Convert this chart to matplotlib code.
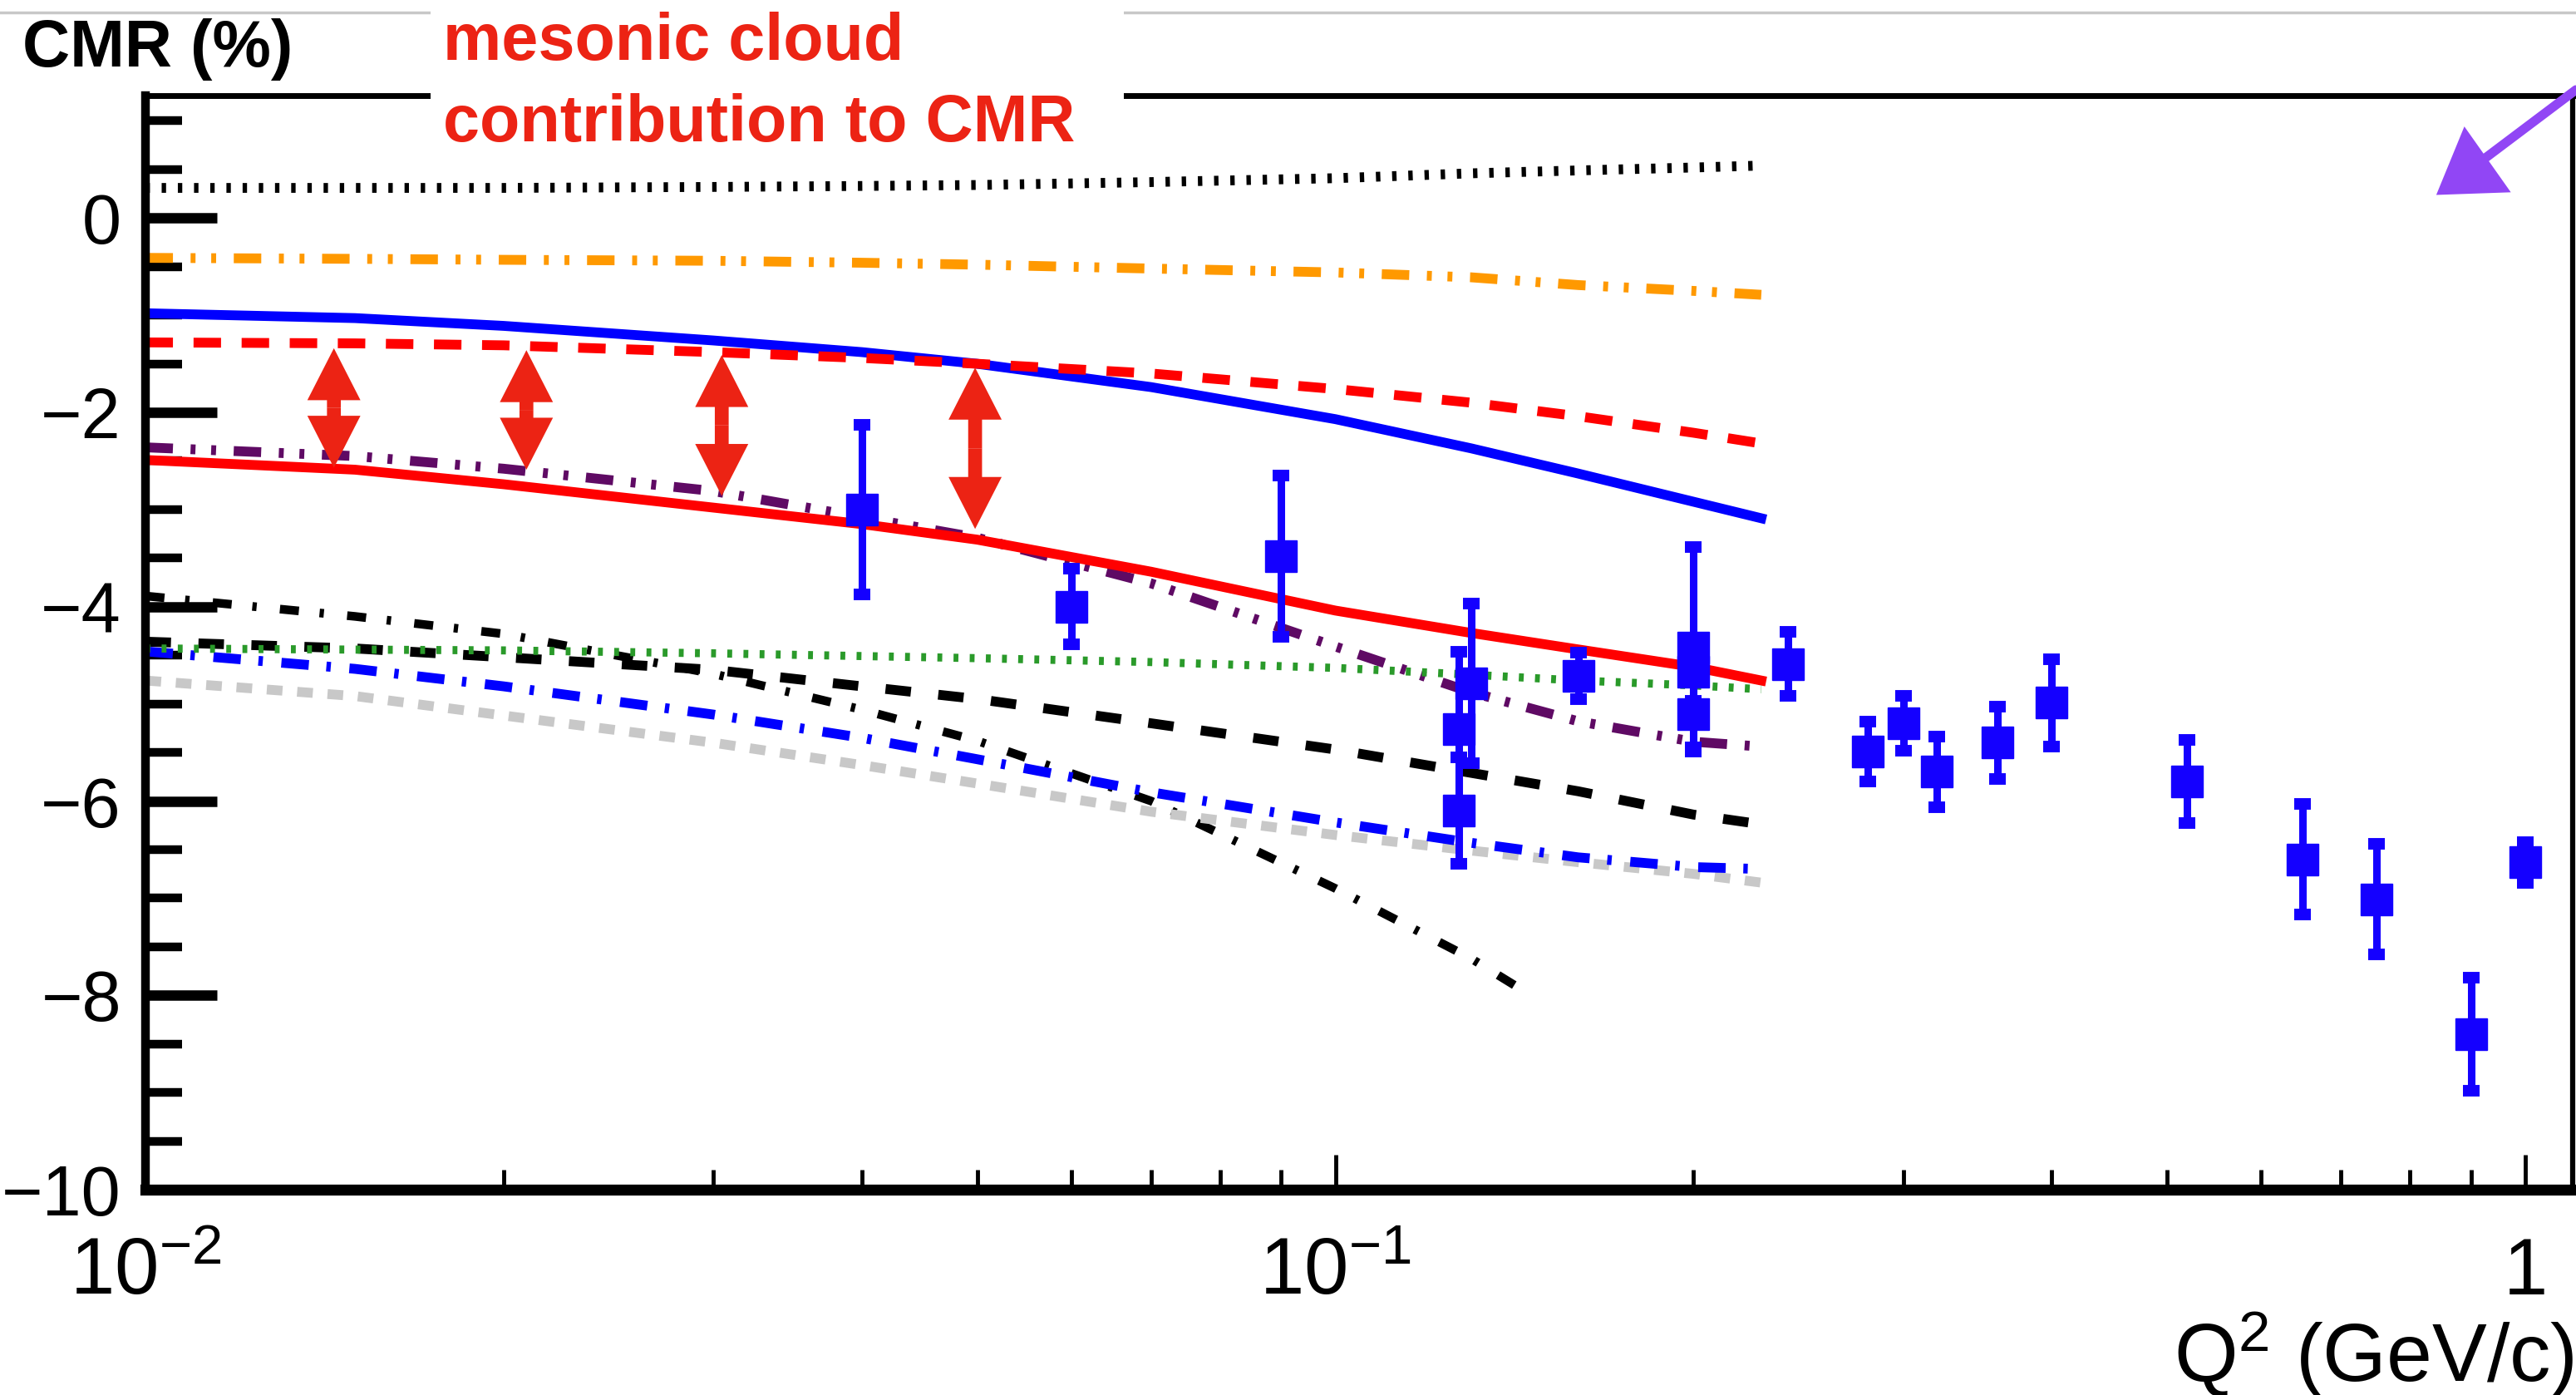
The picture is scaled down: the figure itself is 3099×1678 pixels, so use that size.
import matplotlib
matplotlib.use('Agg')
import matplotlib.pyplot as plt
from matplotlib.ticker import FixedLocator, FixedFormatter, LogLocator, MultipleLocator, NullFormatter
from matplotlib.patches import Rectangle, Polygon
from matplotlib.lines import Line2D

plt.rcParams['font.family'] = ['Liberation Sans', 'DejaVu Sans']
plt.rcParams['mathtext.fontset'] = 'custom'
plt.rcParams['mathtext.rm'] = 'Liberation Sans'
plt.rcParams['mathtext.it'] = 'Liberation Sans:italic'
plt.rcParams['mathtext.bf'] = 'Liberation Sans:bold'

# model curves: Q^2 (GeV/c)^2 vs CMR (%)
q2_curve = [0.01, 0.015, 0.02, 0.03, 0.04, 0.05, 0.07, 0.1, 0.13, 0.16, 0.2, 0.228]
cmr_black_dot = [0.31, 0.31, 0.31, 0.32, 0.33, 0.34, 0.37, 0.41, 0.46, 0.49, 0.52, 0.54]
cmr_orange = [-0.41, -0.42, -0.43, -0.44, -0.46, -0.48, -0.52, -0.56, -0.61, -0.69, -0.75, -0.79]
cmr_blue = [-0.98, -1.03, -1.11, -1.26, -1.38, -1.50, -1.74, -2.07, -2.37, -2.63, -2.92, -3.09]
cmr_red_dash = [-1.28, -1.29, -1.31, -1.38, -1.44, -1.50, -1.60, -1.76, -1.90, -2.04, -2.21, -2.32]
cmr_red = [-2.49, -2.59, -2.74, -2.98, -3.15, -3.31, -3.64, -4.04, -4.27, -4.44, -4.62, -4.76]
cmr_purple = [-2.36, -2.45, -2.58, -2.81, -3.08, -3.29, -3.76, -4.41, -4.88, -5.18, -5.39, -5.44]
cmr_black_dash = [-4.36, -4.43, -4.52, -4.65, -4.82, -4.95, -5.20, -5.47, -5.71, -5.90, -6.14, -6.24]
cmr_blue_dashdot = [-4.46, -4.64, -4.82, -5.11, -5.35, -5.57, -5.91, -6.22, -6.43, -6.58, -6.68, -6.70]
cmr_gray = [-4.76, -4.92, -5.12, -5.40, -5.63, -5.82, -6.11, -6.35, -6.51, -6.63, -6.75, -6.84]

q2_dashdot = [0.01, 0.015, 0.02, 0.03, 0.04, 0.05, 0.07, 0.1, 0.13, 0.146]
cmr_black_dashdot = [-3.89, -4.10, -4.28, -4.69, -5.06, -5.38, -6.00, -6.90, -7.62, -8.00]

q2_green = [0.01, 0.02, 0.03, 0.05, 0.07, 0.1, 0.13, 0.16, 0.2, 0.228]
cmr_green = [-4.43, -4.45, -4.48, -4.53, -4.57, -4.63, -4.70, -4.76, -4.81, -4.85]

# measurements
q2_data = [0.04, 0.06, 0.09, 0.127, 0.127, 0.13, 0.16, 0.2, 0.2, 0.2, 0.24,
           0.28, 0.30, 0.32, 0.36, 0.40, 0.52, 0.65, 0.75, 0.90, 1.0]
cmr_data = [-3.00, -4.00, -3.48, -5.26, -6.10, -4.79, -4.71, -4.42, -4.67, -5.11, -4.59,
            -5.49, -5.20, -5.70, -5.40, -4.99, -5.80, -6.60, -7.01, -8.40, -6.63]
cmr_err = [0.87, 0.39, 0.83, 0.80, 0.55, 0.82, 0.24, 1.03, 0.30, 0.38, 0.33,
           0.31, 0.28, 0.36, 0.37, 0.45, 0.43, 0.57, 0.57, 0.58, 0.21]

# mesonic cloud arrows
q2_arrow = [0.0144, 0.0209, 0.0305, 0.0498]
arrow_top = [-1.34, -1.36, -1.41, -1.54]
arrow_bot = [-2.57, -2.59, -2.86, -3.20]

x_ticks = [0.01, 0.1, 1.0]
x_tick_labels = [r'$10^{-2}$', r'$10^{-1}$', '1']

W, H = 3099, 1678
fig = plt.figure(figsize=(W / 100, H / 100), dpi=100)
ax = fig.add_axes([175 / W, 1 - 1431 / H, (3095 - 175) / W, (1431 - 115) / H])

red = '#ec2314'
lw = 8.5
ax.plot(q2_curve, cmr_black_dot, color='black', lw=lw, ls=(0, (0.45, 1.2)))
ax.plot(q2_curve, cmr_orange, color='#ff9900', lw=lw, ls=(0, (2.8, 1.8, 0.5, 1.6, 0.5, 1.8)))
ax.plot(q2_curve, cmr_blue, color='#0000ff', lw=lw)
ax.plot(q2_curve, cmr_red_dash, color='#ff0000', lw=lw, ls=(0, (2.8, 2.1)))
ax.plot(q2_curve, cmr_purple, color='#5f0a64', lw=lw, ls=(0, (2.8, 1.8, 0.5, 1.6, 0.5, 1.8)))
ax.plot(q2_curve, cmr_red, color='#ff0000', lw=lw)
ax.plot(q2_dashdot, cmr_black_dashdot, color='black', lw=7.5, ls=(0, (2.2, 2.4, 0.5, 2.7)))
ax.plot(q2_curve, cmr_black_dash, color='black', lw=lw, ls=(0, (2.6, 2.8)))
ax.plot(q2_curve, cmr_gray, color='#c8c8c8', lw=lw, ls=(0, (1.6, 1.5)))
ax.plot(q2_curve, cmr_blue_dashdot, color='#0000ff', lw=lw, ls=(0, (2.8, 1.8, 0.45, 1.9)))
ax.plot(q2_green, cmr_green, color='#2a9a2a', lw=7, ls=(0, (0.6, 1.4)))

for q, t, b in zip(q2_arrow, arrow_top, arrow_bot):
    m = (t + b) / 2
    for end in (t, b):
        ax.annotate('', xy=(q, end), xytext=(q, m),
                    arrowprops=dict(arrowstyle='simple,head_length=45,head_width=46,tail_width=12',
                                    color=red, lw=0, shrinkA=0, shrinkB=0, mutation_scale=1),
                    zorder=6)

ax.errorbar(q2_data, cmr_data, yerr=cmr_err, fmt='s', color='#1400ff', ms=28,
            elinewidth=6.5, capsize=7, capthick=10, zorder=5)

ax.set_xscale('log')
ax.set_xlim(0.01, 1.096)
ax.set_ylim(-10, 1.26)
ax.xaxis.set_major_locator(FixedLocator(x_ticks))
ax.xaxis.set_major_formatter(FixedFormatter(x_tick_labels))
ax.xaxis.set_minor_locator(LogLocator(base=10, subs=[2, 3, 4, 5, 6, 7, 8, 9]))
ax.xaxis.set_minor_formatter(NullFormatter())
ax.yaxis.set_major_locator(MultipleLocator(2))
ax.yaxis.set_minor_locator(MultipleLocator(0.5))

ax.tick_params(axis='y', which='major', direction='in', length=62, width=9, labelsize=61, pad=21)
ax.tick_params(axis='y', which='minor', direction='in', length=32, width=7.5)
ax.tick_params(axis='x', which='major', direction='in', length=30, width=3.5, labelsize=69, pad=40)
ax.tick_params(axis='x', which='minor', direction='in', length=17, width=3.5)
ax.spines['left'].set_linewidth(7.5)
ax.spines['bottom'].set_linewidth(9.5)
ax.spines['top'].set_linewidth(5)
ax.spines['right'].set_linewidth(4.5)

# decorations
fig.add_artist(Line2D([0, 1], [1 - 15 / H, 1 - 15 / H], transform=fig.transFigure,
                      color='#c8c8c8', lw=2.5, zorder=2))
fig.add_artist(Rectangle((518 / W, 1 - 185 / H), (1352 - 518) / W, 185 / H,
                         transform=fig.transFigure, facecolor='white', edgecolor='none', zorder=3))
fig.text(27 / W, 1 - 80 / H, 'CMR (%)', fontsize=57, fontweight='bold', color='black',
         va='baseline', ha='left', zorder=4)
fig.text(533 / W, 1 - 72 / H, 'mesonic cloud', fontsize=57, fontweight='bold', color=red,
         va='baseline', ha='left', zorder=4)
fig.text(533 / W, 1 - 170 / H, 'contribution to CMR', fontsize=57, fontweight='bold', color=red,
         va='baseline', ha='left', zorder=4)
fig.text(3097 / W, 1 - 1662 / H, r'Q$^{\mathrm{2}}$ (GeV/c)', fontsize=71, color='black',
         va='baseline', ha='right', zorder=4)

purple = '#9146f5'
fig.add_artist(Line2D([2990 / W, 3099 / W], [1 - 190 / H, 1 - 108 / H], transform=fig.transFigure,
                      color=purple, lw=8, solid_capstyle='round', zorder=4))
fig.add_artist(Polygon([(2965 / W, 1 - 155 / H), (2933 / W, 1 - 233 / H), (3018 / W, 1 - 230 / H)],
                       closed=True, transform=fig.transFigure, facecolor=purple,
                       edgecolor=purple, lw=2, zorder=4))

fig.savefig('out.png', dpi=100, facecolor='white')
